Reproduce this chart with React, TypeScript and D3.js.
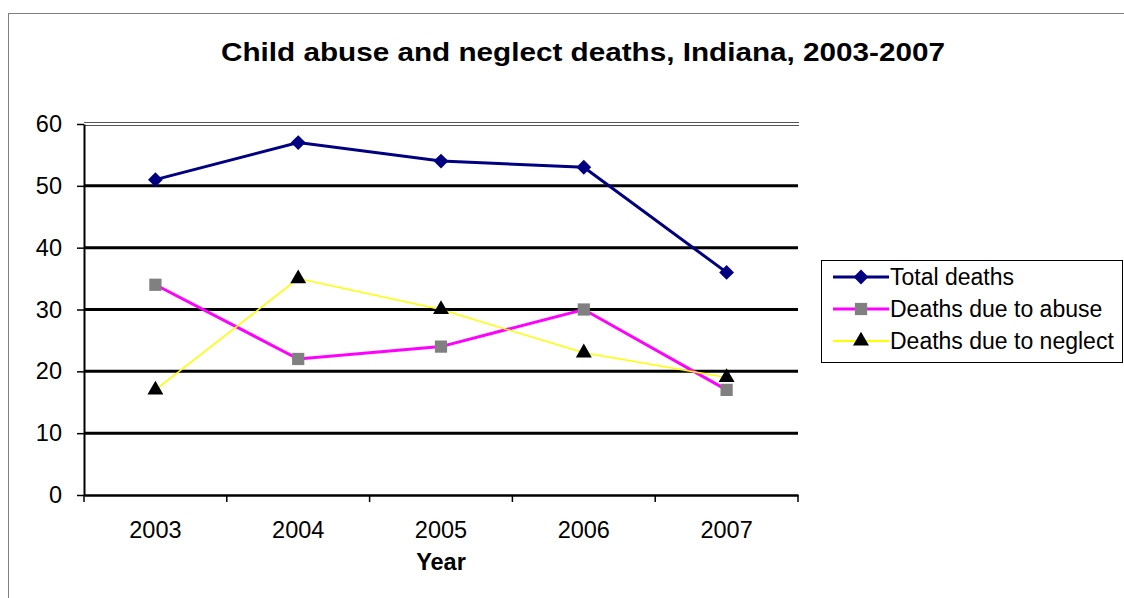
import React, { useEffect, useRef } from 'react';
import * as d3 from 'd3';

const years = ['2003', '2004', '2005', '2006', '2007'];
const totalDeaths = [51, 57, 54, 53, 36];
const abuseDeaths = [34, 22, 24, 30, 17];
const neglectDeaths = [17, 35, 30, 23, 19];
const yTicks = [0, 10, 20, 30, 40, 50, 60];

const seriesNames = ['Total deaths', 'Deaths due to abuse', 'Deaths due to neglect'];

export default function App() {
  const ref = useRef<SVGSVGElement>(null);

  useEffect(() => {
    const svg = d3.select(ref.current);
    svg.selectAll('*').remove();
    const width = 1124, height = 598;
    const margin = { top: 124, right: 326, bottom: 103, left: 84 };
    const font = 'Liberation Sans, Arial, sans-serif';

    // outer chart border
    svg.append('rect')
      .attr('x', 8.5).attr('y', 13.5)
      .attr('width', width + 20).attr('height', height + 20)
      .attr('fill', 'white').attr('stroke', '#808080').attr('stroke-width', 1);

    const x = d3.scaleBand()
      .domain(years)
      .range([margin.left, width - margin.right]);

    const y = d3.scaleLinear()
      .domain([0, 60])
      .range([height - margin.bottom, margin.top]);

    // title
    svg.append('text')
      .attr('x', 583).attr('y', 61)
      .attr('text-anchor', 'middle')
      .attr('textLength', 724).attr('lengthAdjust', 'spacingAndGlyphs')
      .style('font-family', font).style('font-weight', 'bold').style('font-size', '26px')
      .text('Child abuse and neglect deaths, Indiana, 2003-2007');

    // gridlines
    svg.append('g').selectAll('line')
      .data(yTicks.filter(d => d > 0 && d < 60)).enter().append('line')
      .attr('x1', margin.left).attr('x2', width - margin.right)
      .attr('y1', d => y(d)).attr('y2', d => y(d))
      .attr('stroke', 'black').attr('stroke-width', 3);

    // top double line at 60
    [-1.5, 1.5].forEach(off => {
      svg.append('line')
        .attr('x1', margin.left).attr('x2', width - margin.right + 1)
        .attr('y1', y(60) + off).attr('y2', y(60) + off)
        .attr('stroke', '#555').attr('stroke-width', 1);
    });

    // y axis
    const yAxis = svg.append('g')
      .attr('transform', `translate(${margin.left},0)`)
      .call(d3.axisLeft(y).tickValues(yTicks).tickSize(7).tickPadding(15).tickSizeOuter(0));
    yAxis.select('.domain').attr('stroke-width', 2);
    yAxis.selectAll('.tick line').attr('stroke-width', 1.5);
    yAxis.selectAll('text').style('font-family', font).style('font-size', '23.5px').attr('fill', 'black');

    // x axis
    const xAxis = svg.append('g')
      .attr('transform', `translate(0,${y(0)})`)
      .call(d3.axisBottom(x).tickSize(0).tickPadding(26));
    xAxis.select('.domain').attr('stroke-width', 2.5);
    xAxis.selectAll('text').style('font-family', font).style('font-size', '23.5px').attr('fill', 'black');
    const bounds = years.map(d => x(d) as number).concat([width - margin.right]);
    xAxis.append('g').selectAll('line').data(bounds).enter().append('line')
      .attr('x1', d => d).attr('x2', d => d)
      .attr('y1', 0).attr('y2', 7)
      .attr('stroke', 'black').attr('stroke-width', 1.5);

    svg.append('text')
      .attr('x', x('2005')! + x.bandwidth() / 2).attr('y', 570)
      .attr('text-anchor', 'middle')
      .style('font-family', font).style('font-weight', 'bold').style('font-size', '23.5px')
      .text('Year');

    const cx = (d: string) => (x(d) as number) + x.bandwidth() / 2;
    const line = d3.line<number>()
      .x((_, i) => cx(years[i]))
      .y(d => y(d));

    const diamond = d3.symbol().type(d3.symbolDiamond2).size(140);
    const square = d3.symbol().type(d3.symbolSquare).size(150);
    const triangle = d3.symbol().type(d3.symbolTriangle).size(110);

    const series = [
      { name: seriesNames[0], values: totalDeaths, color: '#000080', w: 3, sym: diamond, fill: '#000080' },
      { name: seriesNames[1], values: abuseDeaths, color: '#FF00FF', w: 3, sym: square, fill: '#808080' },
      { name: seriesNames[2], values: neglectDeaths, color: '#FFFF00', w: 1.5, sym: triangle, fill: 'black' },
    ];

    series.forEach(s => {
      svg.append('path')
        .datum(s.values)
        .attr('d', line)
        .attr('fill', 'none')
        .attr('stroke', s.color)
        .attr('stroke-width', s.w);
    });
    series.forEach(s => {
      svg.append('g').selectAll('path')
        .data(s.values).enter().append('path')
        .attr('d', s.sym)
        .attr('transform', (d, i) => `translate(${cx(years[i])},${y(d)})`)
        .attr('fill', s.fill);
    });

    // legend
    const lg = svg.append('g').attr('transform', 'translate(821,260)');
    lg.append('rect')
      .attr('x', 0.5).attr('y', 0.5).attr('width', 301).attr('height', 102)
      .attr('fill', 'white').attr('stroke', 'black').attr('stroke-width', 1);
    series.forEach((s, i) => {
      const ly = 17 + i * 32;
      lg.append('line')
        .attr('x1', 12).attr('x2', 68).attr('y1', ly).attr('y2', ly)
        .attr('stroke', s.color).attr('stroke-width', s.w === 3 ? 3 : 2);
      lg.append('path')
        .attr('d', s.sym)
        .attr('transform', `translate(40,${ly})`)
        .attr('fill', s.fill);
      lg.append('text')
        .attr('x', 69).attr('y', ly + 8)
        .style('font-family', font).style('font-size', '23px')
        .text(s.name);
    });
  }, []);

  return (
    <svg ref={ref} width={1124} height={598}
      style={{ position: 'absolute', left: 0, top: 0 }} />
  );
}
